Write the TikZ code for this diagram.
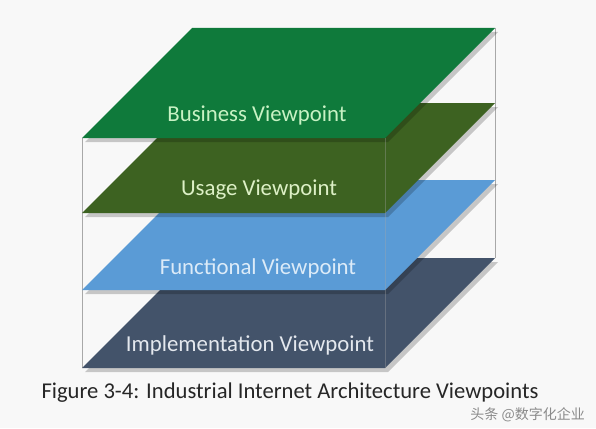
\documentclass[tikz,border=0pt]{standalone}
\usepackage{fontspec}
\setmainfont{Carlito}
\newfontfamily\cjk{Noto Sans CJK SC}
\definecolor{paper}{HTML}{F8F8F8}
\definecolor{frame}{HTML}{A8A8A8}
\definecolor{bizgreen}{HTML}{0F7A3B}
\definecolor{usegreen}{HTML}{3D6221}
\definecolor{funblue}{HTML}{5A9BD6}
\definecolor{impslate}{HTML}{43536A}
\definecolor{biztext}{HTML}{C8F2C4}
\definecolor{usetext}{HTML}{DDF0C6}
\definecolor{funtext}{HTML}{DCEBF8}
\definecolor{imptext}{HTML}{E4E8EE}
\definecolor{ink}{HTML}{262626}
\definecolor{muted}{HTML}{8A8A8A}

\begin{document}
\begin{tikzpicture}[
  x=1pt, y=-1pt,
  font=\fontsize{22.8}{26}\selectfont,
  edge/.style={draw=frame, line width=0.7pt},
  shade/.style={fill=black, opacity=0.2},
  label/.style={inner sep=0pt, anchor=center},
  caption/.style={font=\fontsize{22.6}{26}\selectfont, text=ink, inner sep=0pt}
]
\useasboundingbox[fill=paper] (0,0) rectangle (596,428);

% wire frame of the stack
\draw[edge] (82,138) -- (82,368);
\draw[edge] (495,28) -- (495,258);
\draw[edge] (385,138) -- (385,368);

% implementation layer
\fill[shade] (85,372) -- (388,372) -- (498,262) -- (195,262) -- cycle;
\fill[impslate] (82,368) -- (385,368) -- (495,258) -- (192,258) -- cycle;
\node[label, text=imptext] (implementation) at (250,345) {Implementation Viewpoint};

% functional layer
\fill[shade] (85,294) -- (388,294) -- (498,184) -- (195,184) -- cycle;
\fill[funblue] (82,290) -- (385,290) -- (495,180) -- (192,180) -- cycle;
\node[label, text=funtext] (functional) at (258,268) {Functional Viewpoint};

% usage layer
\fill[shade] (85,217) -- (388,217) -- (498,107) -- (195,107) -- cycle;
\fill[usegreen] (82,213) -- (385,213) -- (495,103) -- (192,103) -- cycle;
\node[label, text=usetext] (usage) at (259,190) {Usage Viewpoint};

% business layer
\fill[shade] (85,142) -- (388,142) -- (498,32) -- (195,32) -- cycle;
\fill[bizgreen] (82,138) -- (385,138) -- (495,28) -- (192,28) -- cycle;
\node[label, text=biztext] (business) at (257,115) {Business Viewpoint};

% front edge seen through the layers
\draw[edge, opacity=0.35] (385,138) -- (385,368);

\node[caption] (figcaption) at (290,393) {Figure 3-4: Industrial Internet Architecture Viewpoints};
\node[text=muted, inner sep=0pt, anchor=east, font=\cjk\fontsize{14}{16}\selectfont] (mark) at (585,415) {头条 @数字化企业};
\end{tikzpicture}
\end{document}
